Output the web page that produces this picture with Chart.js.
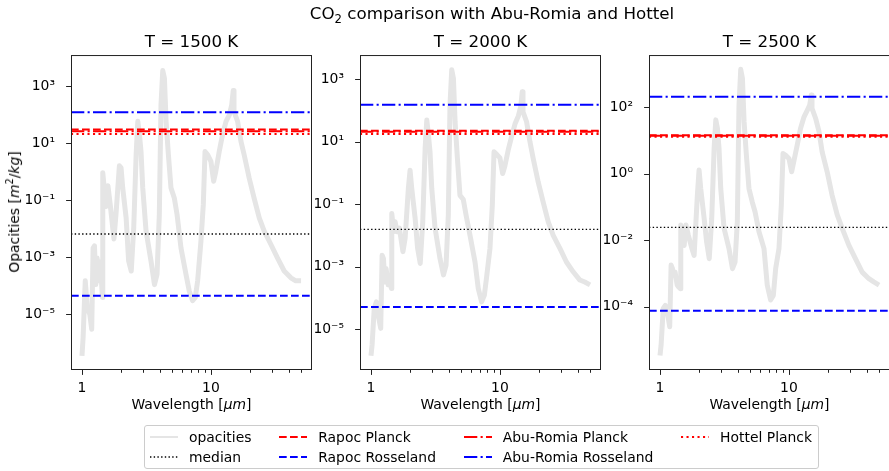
<!DOCTYPE html>
<html>
<head>
<meta charset="utf-8">
<script src="https://cdn.jsdelivr.net/npm/chart.js@4.4.1/dist/chart.umd.min.js"></script>
<style>
  body { margin: 0; background: #fff; }
  #fig { position: relative; width: 889px; height: 471px; overflow: hidden; font-family: "DejaVu Sans"; color: #000; }
  #fig canvas { position: absolute; top: 0; }
  .txt { position: absolute; white-space: nowrap; line-height: 1; transform: translate(-50%, -50%); font-size: 13.9px; }
  .ylab { transform: translate(-50%, -50%) rotate(-90deg); }
  sup, sub { font-size: 70%; line-height: 0; }
  #legend { position: absolute; left: 144px; top: 425px; border: 1px solid #ccc; border-radius: 3px; background: #fff;
            padding: 0.5px 6px 0.5px 5px; display: grid; grid-auto-flow: column; grid-template-rows: 20.6px 20.6px;
            column-gap: 27.8px; font-size: 13.9px; }
  #legend .item { display: flex; align-items: center; gap: 11px; white-space: nowrap; }
</style>
</head>
<body>
<div id="fig">
  <canvas id="c0" width="312" height="471" style="left:0px"></canvas>
  <canvas id="c1" width="289" height="471" style="left:312px"></canvas>
  <canvas id="c2" width="289" height="471" style="left:601px"></canvas>
  <div class="txt" style="left:492px;top:13px;font-size:16.7px">CO<sub>2</sub> comparison with Abu-Romia and Hottel</div>
  <div class="txt ylab" style="left:15px;top:212px">Opacities [<i>m</i><sup>2</sup>/<i>kg</i>]</div>
  <div class="txt" style="left:191.5px;top:405px">Wavelength [<i>μm</i>]</div>
  <div class="txt" style="left:480.5px;top:405px">Wavelength [<i>μm</i>]</div>
  <div class="txt" style="left:769.5px;top:405px">Wavelength [<i>μm</i>]</div>
  <div id="legend"></div>
</div>
<script>
// wavelength grid in micron, shared by all three temperatures
const wavelength = [
  1.00, 1.02, 1.06, 1.10, 1.15, 1.19, 1.22, 1.25, 1.28, 1.31,
  1.36, 1.39, 1.44, 1.45, 1.50, 1.54, 1.59, 1.66, 1.77, 1.84,
  1.95, 2.01, 2.07, 2.20, 2.30, 2.41, 2.52, 2.63, 2.71, 2.79,
  2.87, 2.96, 3.14, 3.43, 3.65, 3.82, 3.98, 4.10, 4.23, 4.36,
  4.49, 4.68, 4.90, 5.20, 5.46, 5.86, 6.41, 6.79, 7.21, 7.57,
  7.89, 8.37, 8.73, 9.00, 9.44, 10.0, 10.5, 10.9, 11.6, 12.3,
  13.1, 13.9, 14.5, 14.9, 15.1, 16.1, 17.1, 18.1, 19.8, 21.6,
  23.7, 25.9, 29.2, 32.8, 37.0, 41.7, 45.5, 50.0
];

const opacity1500 = [
  3.5e-7, 1.5e-6, 1.5e-4, 1.7e-5, 1.0e-5, 3.0e-6, 2.1e-3, 2.5e-3, 1.1e-4, 9.5e-4,
  1.5e-4, 7.0e-4, 3.9e-5, 0.91, 0.18, 0.06, 0.32, 0.063, 4.4e-3, 0.037,
  1.6, 1.35, 0.27, 0.024, 7.4e-4, 3.3e-4, 0.011, 3.9, 58, 19.5,
  5.1, 0.27, 8.3e-3, 7.4e-4, 1.1e-4, 2.5e-4, 0.032, 220, 3500, 1860,
  58, 3.9, 0.27, 0.12, 0.032, 2.1e-3, 2.5e-4, 6.6e-5, 3.0e-5, 3.9e-5,
  1.5e-4, 3.7e-3, 0.071, 5.1, 3.9, 2.3, 0.46, 1.0, 5.1, 19.5,
  58, 98, 220, 700, 126, 58, 11.5, 3.9, 0.6, 0.12,
  0.024, 8.3e-3, 2.8e-3, 9.5e-4, 3.3e-4, 1.9e-4, 1.5e-4, 1.5e-4
];

const opacity2000 = [
  1.4e-6, 3.1e-6, 4.6e-5, 7.4e-5, 2.2e-5, 1.05e-5, 2.3e-3, 1.8e-3, 3.2e-4, 8.7e-4,
  2.6e-4, 3.5e-4, 2.0e-4, 0.05, 0.013, 0.027, 0.013, 0.017, 3.0e-3, 8.0e-3,
  0.32, 1.2, 0.32, 0.035, 3.8e-3, 1.26e-3, 0.027, 6.0, 49, 16,
  4.7, 0.32, 0.017, 1.8e-3, 5.4e-4, 1.1e-3, 0.045, 148, 2000, 1050,
  43, 2.9, 0.19, 0.14, 0.045, 0.01, 1.4e-3, 2.0e-4, 7.4e-5, 1.2e-4,
  4.7e-4, 3.8e-3, 0.093, 4.7, 3.9, 3.0, 0.95, 1.6, 5.4, 14,
  37, 66, 130, 390, 89, 43, 9.8, 2.9, 0.51, 0.12,
  0.027, 0.01, 3.8e-3, 1.4e-3, 6.8e-4, 3.7e-4, 3.2e-4, 2.6e-4
];

const opacity2500 = [
  3.4e-6, 6.9e-6, 8.9e-5, 1.1e-4, 5.6e-5, 2.5e-5, 1.8e-3, 1.4e-3, 8.9e-4, 1.1e-3,
  4.5e-4, 4.0e-4, 3.5e-4, 0.029, 0.014, 7.0e-3, 0.029, 0.014, 5.6e-3, 3.5e-3,
  0.23, 1.3, 0.36, 0.046, 8.9e-3, 2.8e-3, 0.046, 5.9, 42, 23,
  5.9, 0.36, 0.023, 5.6e-3, 1.4e-3, 2.2e-3, 0.036, 117, 1390, 740,
  37, 3.6, 0.36, 0.14, 0.072, 0.018, 5.6e-3, 4.5e-4, 1.6e-4, 2.2e-4,
  1.4e-3, 5.6e-3, 0.115, 4.1, 3.6, 2.9, 1.15, 2.3, 7.4, 23,
  52, 83, 117, 234, 93, 47, 19, 4.6, 1.15, 0.23,
  0.058, 0.023, 7.0e-3, 2.8e-3, 1.1e-3, 7.0e-4, 5.6e-4, 4.5e-4
];

const panelTitles = ['T = 1500 K', 'T = 2000 K', 'T = 2500 K'];
const opacities = [opacity1500, opacity2000, opacity2500];

// mean opacities, one value per temperature
const rapocPlanck       = [30, 22, 14.5];
const abuRomiaPlanck    = [26, 20.5, 14];
const hottelPlanck      = [21, 17.5, 13];
const rapocRosseland    = [4.5e-5, 5.1e-5, 7.6e-5];
const abuRomiaRosseland = [120, 150, 209];
const medianOpacity     = [6.5e-3, 0.0155, 0.0245];

// axes
const xLimits = [0.822, 60.8];
const yLimits = [[1.12e-7, 1.22e4], [4.9e-7, 5860], [1.25e-6, 3750]];
const xMajorTicks = [1, 10];
const xMajorLabels = ['1', '10'];
const xMinorTicks = [2, 3, 4, 5, 6, 7, 8, 9, 20, 30, 40, 50];
const yTicks = [
  [1e-5, 1e-3, 1e-1, 10, 1000],
  [1e-5, 1e-3, 1e-1, 10, 1000],
  [1e-4, 1e-2, 1, 100]
];
const yTickLabels = [
  ['10⁻⁵', '10⁻³', '10⁻¹', '10¹', '10³'],
  ['10⁻⁵', '10⁻³', '10⁻¹', '10¹', '10³'],
  ['10⁻⁴', '10⁻²', '10⁰', '10²']
];

const legendOrder = ['opacities', 'median', 'Rapoc Planck', 'Rapoc Rosseland',
                     'Abu-Romia Planck', 'Abu-Romia Rosseland', 'Hottel Planck'];

const dashed = [7.7, 3.3];
const dashDot = [13.3, 3.3, 2.1, 3.3];
const dotted = [2.1, 3.4];
const font = { family: 'DejaVu Sans', size: 13.9 };

// spines and outward tick marks
const frameTicks = {
  id: 'frameTicks',
  afterDraw(chart) {
    const { ctx, chartArea: a, scales } = chart;
    ctx.save();
    ctx.strokeStyle = '#222';
    ctx.lineWidth = 1;
    ctx.strokeRect(a.left + 0.5, a.top + 0.5, a.right - a.left - 1, a.bottom - a.top - 1);
    scales.x.ticks.forEach(t => {
      const p = Math.round(scales.x.getPixelForValue(t.value)) + 0.5;
      const len = t.label ? 4.9 : 2.8;
      ctx.beginPath(); ctx.moveTo(p, a.bottom); ctx.lineTo(p, a.bottom + len); ctx.stroke();
    });
    scales.y.ticks.forEach(t => {
      const p = Math.round(scales.y.getPixelForValue(t.value)) + 0.5;
      ctx.beginPath(); ctx.moveTo(a.left - 4.9, p); ctx.lineTo(a.left, p); ctx.stroke();
    });
    ctx.restore();
  }
};

function hline(label, value, color, dash, width) {
  return {
    label: label,
    data: [{ x: xLimits[0], y: value }, { x: xLimits[1], y: value }],
    borderColor: color,
    borderDash: dash,
    borderWidth: width,
    pointRadius: 0,
    fill: false
  };
}

function makePanel(i, yAxisWidth) {
  const ctx = document.getElementById('c' + i).getContext('2d');
  return new Chart(ctx, {
    type: 'line',
    data: {
      datasets: [
        hline('Abu-Romia Rosseland', abuRomiaRosseland[i], '#0000ff', dashDot, 2),
        hline('Rapoc Rosseland', rapocRosseland[i], '#0000ff', dashed, 2),
        hline('Hottel Planck', hottelPlanck[i], '#ff0000', dotted, 2),
        hline('Abu-Romia Planck', abuRomiaPlanck[i], '#ff0000', dashDot, 2),
        hline('Rapoc Planck', rapocPlanck[i], '#ff0000', dashed, 2),
        hline('median', medianOpacity[i], '#000000', [1.4, 2.3], 1.4),
        {
          label: 'opacities',
          data: wavelength.map((w, k) => ({ x: w, y: opacities[i][k] })),
          borderColor: '#e5e5e5',
          borderWidth: 5,
          borderJoinStyle: 'round',
          pointRadius: 0,
          tension: 0,
          fill: false
        }
      ]
    },
    options: {
      responsive: false,
      animation: false,
      events: [],
      layout: { padding: 0 },
      scales: {
        x: {
          type: 'logarithmic',
          min: xLimits[0],
          max: xLimits[1],
          grid: { display: false },
          border: { display: false },
          afterBuildTicks: s => {
            s.ticks = xMajorTicks.concat(xMinorTicks).sort((a, b) => a - b).map(v => ({ value: v }));
          },
          ticks: {
            autoSkip: false,
            maxRotation: 0,
            padding: 2,
            color: '#000',
            font: font,
            callback: v => {
              const k = xMajorTicks.indexOf(v);
              return k >= 0 ? xMajorLabels[k] : '';
            }
          },
          afterFit: s => { s.height = 101; }
        },
        y: {
          type: 'logarithmic',
          min: yLimits[i][0],
          max: yLimits[i][1],
          grid: { display: false },
          border: { display: false },
          afterBuildTicks: s => { s.ticks = yTicks[i].map(v => ({ value: v })); },
          ticks: {
            autoSkip: false,
            padding: 8,
            color: '#000',
            font: font,
            callback: v => {
              const k = yTicks[i].indexOf(v);
              return k >= 0 ? yTickLabels[i][k] : '';
            }
          },
          afterFit: s => { s.width = yAxisWidth; }
        }
      },
      plugins: {
        legend: { display: false },
        tooltip: { enabled: false },
        title: {
          display: true,
          text: panelTitles[i],
          fullSize: false,
          color: '#000',
          font: { family: 'DejaVu Sans', size: 16.7, weight: 'normal' },
          padding: { top: 33, bottom: 2 }
        }
      }
    },
    plugins: [frameTicks]
  });
}

const charts = [makePanel(0, 71), makePanel(1, 48), makePanel(2, 48)];

// html legend built from the dataset styles, laid out in columns like the original
function buildLegend(chart) {
  const items = Chart.defaults.plugins.legend.labels.generateLabels(chart);
  const box = document.getElementById('legend');
  legendOrder.forEach(name => {
    const it = items.find(d => d.text === name);
    const w = Math.min(it.lineWidth, 2);
    const dash = (it.lineDash || []).join(' ');
    const el = document.createElement('div');
    el.className = 'item';
    el.innerHTML = '<svg width="28" height="10"><line x1="0" y1="5" x2="28" y2="5" stroke="' + it.strokeStyle +
      '" stroke-width="' + w + '" stroke-dasharray="' + dash + '"/></svg><span>' + it.text + '</span>';
    box.appendChild(el);
  });
}
buildLegend(charts[2]);
</script>
</body>
</html>
